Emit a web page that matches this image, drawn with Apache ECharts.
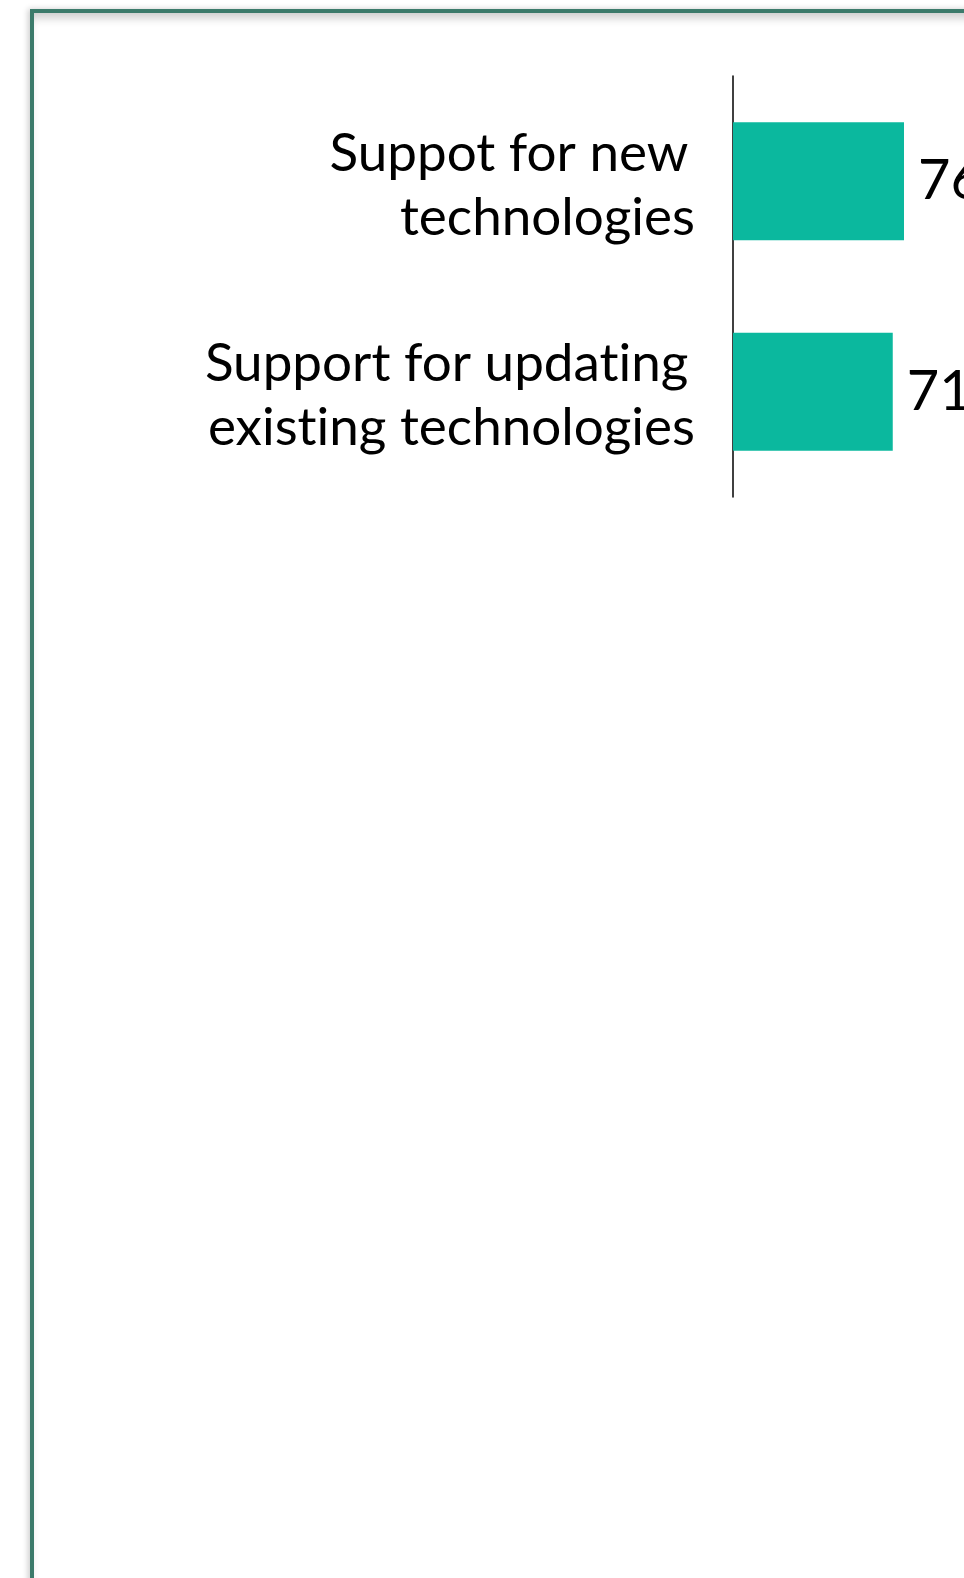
<!DOCTYPE html>
<html>
<head>
<meta charset="utf-8">
<script src="https://cdn.jsdelivr.net/npm/echarts@6/dist/echarts.min.js"></script>
<style>
  html, body { margin: 0; padding: 0; background: #ffffff; overflow: hidden; width: 964px; height: 1578px; }
  #frame {
    position: absolute; left: 30px; top: 9px;
    width: 1100px; height: 1700px;
    border: 4px solid #3c7b6b;
    box-shadow: -2px 0 6px rgba(0,0,0,0.2), inset 0 9px 10px -4px rgba(0,0,0,0.2);
    background: transparent;
  }
  #chart { position: absolute; left: 0; top: 0; width: 1100px; height: 1700px; }
</style>
</head>
<body>
<div id="chart"></div>
<div id="frame"></div>
<script>
const categories = ["Suppot for new\u2009\ntechnologies", "Support for updat\u200Cing\u2009\nexist\u200Cing technologies"];
const values = [76, 71];
const axisMax = 100;

const chart = echarts.init(document.getElementById('chart'), null, { renderer: 'canvas' });
chart.setOption({
  animation: false,
  backgroundColor: 'transparent',
  grid: { left: 733, top: 76, width: 225, height: 421, containLabel: false },
  xAxis: {
    type: 'value', min: 0, max: axisMax, show: false
  },
  yAxis: {
    type: 'category',
    data: categories,
    inverse: true,
    axisLine: { show: true, lineStyle: { color: '#000000', width: 1.5 } },
    axisTick: { show: false },
    splitLine: { show: false },
    axisLabel: {
      margin: 38,
      color: '#000000',
      fontFamily: 'Lato',
      fontSize: 53,
      lineHeight: 64,
      align: 'right',
      formatter: function (v) {
        return '{s|\u200B}\n' + v.split('\n').map(function (l) { return '{a|' + l + '}'; }).join('\n');
      },
      rich: {
        s: { fontSize: 1, lineHeight: 9, height: 9 },
        a: { fontFamily: 'Lato', fontSize: 53, lineHeight: 64, color: '#000000' }
      }
    }
  },
  series: [{
    type: 'bar',
    data: values,
    barCategoryGap: '44%',
    itemStyle: { color: '#0bb89e' },
    label: {
      show: true,
      position: 'right',
      distance: 14,
      color: '#000000',
      fontFamily: 'Lato',
      fontSize: 56
    }
  }]
});
</script>
</body>
</html>
